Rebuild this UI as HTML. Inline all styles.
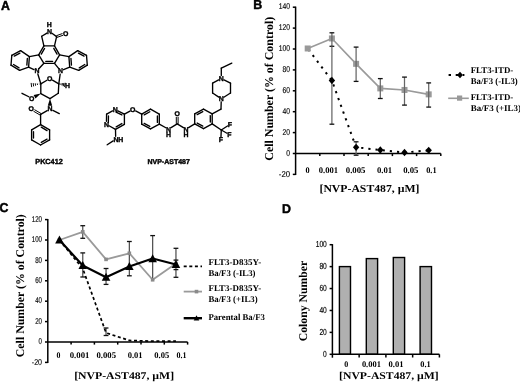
<!DOCTYPE html>
<html><head><meta charset="utf-8"><style>
html,body{margin:0;padding:0;background:#fff;width:520px;height:382px;overflow:hidden}
svg{display:block;will-change:transform;text-rendering:geometricPrecision}

</style></head><body>
<svg width="520" height="382" viewBox="0 0 520 382">
<rect width="520" height="382" fill="#fff"/>
<g>
<line x1="46.95" y1="33.07" x2="41.7" y2="36.3" stroke="#000" stroke-width="1.35" stroke-linecap="round"/>
<line x1="51.94" y1="33.25" x2="56.6" y2="36.6" stroke="#000" stroke-width="1.35" stroke-linecap="round"/>
<line x1="41.7" y1="36.3" x2="43.9" y2="45.9" stroke="#000" stroke-width="1.35" stroke-linecap="round"/>
<line x1="56.6" y1="36.6" x2="54.5" y2="45.9" stroke="#000" stroke-width="1.35" stroke-linecap="round"/>
<line x1="43.9" y1="45.9" x2="54.5" y2="45.9" stroke="#000" stroke-width="1.35" stroke-linecap="round"/>
<line x1="54.5" y1="45.9" x2="59.6" y2="54.8" stroke="#000" stroke-width="1.35" stroke-linecap="round"/>
<line x1="59.6" y1="54.8" x2="54.5" y2="63.3" stroke="#000" stroke-width="1.35" stroke-linecap="round"/>
<line x1="54.5" y1="63.3" x2="43.9" y2="63.3" stroke="#000" stroke-width="1.35" stroke-linecap="round"/>
<line x1="43.9" y1="63.3" x2="38.7" y2="54.8" stroke="#000" stroke-width="1.35" stroke-linecap="round"/>
<line x1="38.7" y1="54.8" x2="43.9" y2="45.9" stroke="#000" stroke-width="1.35" stroke-linecap="round"/>
<line x1="38.7" y1="54.8" x2="29.4" y2="56.6" stroke="#000" stroke-width="1.35" stroke-linecap="round"/>
<line x1="29.4" y1="56.6" x2="28.6" y2="67.2" stroke="#000" stroke-width="1.35" stroke-linecap="round"/>
<line x1="28.6" y1="67.2" x2="33.98" y2="69.6" stroke="#000" stroke-width="1.35" stroke-linecap="round"/>
<line x1="39.07" y1="68.55" x2="43.9" y2="63.3" stroke="#000" stroke-width="1.35" stroke-linecap="round"/>
<line x1="29.4" y1="56.6" x2="20.6" y2="50.6" stroke="#000" stroke-width="1.35" stroke-linecap="round"/>
<line x1="20.6" y1="50.6" x2="11.8" y2="55.3" stroke="#000" stroke-width="1.35" stroke-linecap="round"/>
<line x1="11.8" y1="55.3" x2="11" y2="65.2" stroke="#000" stroke-width="1.35" stroke-linecap="round"/>
<line x1="11" y1="65.2" x2="19.6" y2="70.4" stroke="#000" stroke-width="1.35" stroke-linecap="round"/>
<line x1="19.6" y1="70.4" x2="28.6" y2="67.2" stroke="#000" stroke-width="1.35" stroke-linecap="round"/>
<line x1="59.6" y1="54.8" x2="68.9" y2="56.6" stroke="#000" stroke-width="1.35" stroke-linecap="round"/>
<line x1="68.9" y1="56.6" x2="69.7" y2="67.2" stroke="#000" stroke-width="1.35" stroke-linecap="round"/>
<line x1="69.7" y1="67.2" x2="63.56" y2="69.69" stroke="#000" stroke-width="1.35" stroke-linecap="round"/>
<line x1="58.6" y1="68.4" x2="54.5" y2="63.3" stroke="#000" stroke-width="1.35" stroke-linecap="round"/>
<line x1="68.9" y1="56.6" x2="77.7" y2="50.6" stroke="#000" stroke-width="1.35" stroke-linecap="round"/>
<line x1="77.7" y1="50.6" x2="86.5" y2="55.3" stroke="#000" stroke-width="1.35" stroke-linecap="round"/>
<line x1="86.5" y1="55.3" x2="87.3" y2="65.2" stroke="#000" stroke-width="1.35" stroke-linecap="round"/>
<line x1="87.3" y1="65.2" x2="78.7" y2="70.4" stroke="#000" stroke-width="1.35" stroke-linecap="round"/>
<line x1="78.7" y1="70.4" x2="69.7" y2="67.2" stroke="#000" stroke-width="1.35" stroke-linecap="round"/>
<line x1="37.83" y1="73.96" x2="40.8" y2="83.8" stroke="#000" stroke-width="1.35" stroke-linecap="round"/>
<line x1="60.16" y1="74.07" x2="58.8" y2="83.8" stroke="#000" stroke-width="1.35" stroke-linecap="round"/>
<line x1="40.8" y1="83.8" x2="46.94" y2="80.21" stroke="#000" stroke-width="1.35" stroke-linecap="round"/>
<line x1="52.48" y1="80.19" x2="58.8" y2="83.8" stroke="#000" stroke-width="1.35" stroke-linecap="round"/>
<line x1="58.8" y1="83.8" x2="58.3" y2="93.3" stroke="#000" stroke-width="1.35" stroke-linecap="round"/>
<line x1="58.3" y1="93.3" x2="50" y2="98.6" stroke="#000" stroke-width="1.35" stroke-linecap="round"/>
<line x1="50" y1="98.6" x2="40.8" y2="93.6" stroke="#000" stroke-width="1.35" stroke-linecap="round"/>
<line x1="40.8" y1="93.6" x2="40.8" y2="83.8" stroke="#000" stroke-width="1.35" stroke-linecap="round"/>
<line x1="28.84" y1="96.76" x2="22" y2="93.3" stroke="#000" stroke-width="1.35" stroke-linecap="round"/>
<line x1="52.87" y1="110.42" x2="59.3" y2="113.6" stroke="#000" stroke-width="1.35" stroke-linecap="round"/>
<line x1="47.21" y1="110.57" x2="40.6" y2="114.3" stroke="#000" stroke-width="1.35" stroke-linecap="round"/>
<line x1="40.6" y1="114.3" x2="40.6" y2="124.6" stroke="#000" stroke-width="1.35" stroke-linecap="round"/>
<line x1="40.6" y1="124.6" x2="49.6" y2="129.9" stroke="#000" stroke-width="1.35" stroke-linecap="round"/>
<line x1="49.6" y1="129.9" x2="49.6" y2="139.9" stroke="#000" stroke-width="1.35" stroke-linecap="round"/>
<line x1="49.6" y1="139.9" x2="40.6" y2="145" stroke="#000" stroke-width="1.35" stroke-linecap="round"/>
<line x1="40.6" y1="145" x2="31.6" y2="139.9" stroke="#000" stroke-width="1.35" stroke-linecap="round"/>
<line x1="31.6" y1="139.9" x2="31.6" y2="129.9" stroke="#000" stroke-width="1.35" stroke-linecap="round"/>
<line x1="31.6" y1="129.9" x2="40.6" y2="124.6" stroke="#000" stroke-width="1.35" stroke-linecap="round"/>
<line x1="56.9" y1="37.45" x2="63.09" y2="35.23" stroke="#000" stroke-width="1.0" />
<line x1="56.3" y1="35.75" x2="62.48" y2="33.53" stroke="#000" stroke-width="1.0" />
<line x1="41.05" y1="113.52" x2="34.42" y2="109.64" stroke="#000" stroke-width="1.0" />
<line x1="40.15" y1="115.08" x2="33.51" y2="111.19" stroke="#000" stroke-width="1.0" />
<line x1="41.28" y1="54.16" x2="44.6" y2="48.46" stroke="#000" stroke-width="1.35" stroke-linecap="round"/>
<line x1="53.77" y1="48.45" x2="57.03" y2="54.14" stroke="#000" stroke-width="1.35" stroke-linecap="round"/>
<line x1="45.81" y1="61.4" x2="52.59" y2="61.4" stroke="#000" stroke-width="1.35" stroke-linecap="round"/>
<line x1="19.91" y1="53.12" x2="14.28" y2="56.13" stroke="#000" stroke-width="1.35" stroke-linecap="round"/>
<line x1="13.53" y1="64.51" x2="19.04" y2="67.84" stroke="#000" stroke-width="1.35" stroke-linecap="round"/>
<line x1="27.36" y1="58.37" x2="26.85" y2="65.15" stroke="#000" stroke-width="1.35" stroke-linecap="round"/>
<line x1="78.39" y1="53.12" x2="84.02" y2="56.13" stroke="#000" stroke-width="1.35" stroke-linecap="round"/>
<line x1="84.77" y1="64.51" x2="79.26" y2="67.84" stroke="#000" stroke-width="1.35" stroke-linecap="round"/>
<line x1="70.94" y1="58.37" x2="71.45" y2="65.15" stroke="#000" stroke-width="1.35" stroke-linecap="round"/>
<line x1="41.26" y1="127.19" x2="47.02" y2="130.58" stroke="#000" stroke-width="1.35" stroke-linecap="round"/>
<line x1="47.04" y1="139.16" x2="41.28" y2="142.43" stroke="#000" stroke-width="1.35" stroke-linecap="round"/>
<line x1="33.5" y1="138.1" x2="33.5" y2="131.7" stroke="#000" stroke-width="1.35" stroke-linecap="round"/>
<line x1="39.35" y1="83.67" x2="39.43" y2="84.29" stroke="#000" stroke-width="0.95" />
<line x1="37.3" y1="83.48" x2="37.49" y2="84.99" stroke="#000" stroke-width="0.95" />
<line x1="35.24" y1="83.29" x2="35.55" y2="85.69" stroke="#000" stroke-width="0.95" />
<line x1="33.19" y1="83.1" x2="33.61" y2="86.39" stroke="#000" stroke-width="0.95" />
<line x1="31.13" y1="82.92" x2="31.67" y2="87.08" stroke="#000" stroke-width="0.95" />
<line x1="59.65" y1="84.26" x2="59.76" y2="83.64" stroke="#000" stroke-width="0.95" />
<line x1="60.86" y1="84.92" x2="61.12" y2="83.42" stroke="#000" stroke-width="0.95" />
<line x1="62.07" y1="85.58" x2="62.48" y2="83.2" stroke="#000" stroke-width="0.95" />
<line x1="63.28" y1="86.24" x2="63.83" y2="82.98" stroke="#000" stroke-width="0.95" />
<line x1="64.49" y1="86.9" x2="65.19" y2="82.76" stroke="#000" stroke-width="0.95" />
<polygon points="40.8,93.6 33.65,94.97 35.46,98.54" fill="#000"/>
<polygon points="50,98.6 47.8,105.8 52.2,105.8" fill="#000"/>
<text x="49.5" y="33.98" font-family='"Liberation Sans", sans-serif' font-size="6.9" font-weight="bold" text-anchor="middle" fill="#000" stroke="#000" stroke-width="0.35">N</text>
<text x="49.2" y="26.9" font-family='"Liberation Sans", sans-serif' font-size="6.9" font-weight="bold" text-anchor="middle" fill="#000" stroke="#000" stroke-width="0.35">H</text>
<text x="65.8" y="35.78" font-family='"Liberation Sans", sans-serif' font-size="6.9" font-weight="bold" text-anchor="middle" fill="#000" stroke="#000" stroke-width="0.35">O</text>
<text x="36.9" y="73.38" font-family='"Liberation Sans", sans-serif' font-size="6.9" font-weight="bold" text-anchor="middle" fill="#000" stroke="#000" stroke-width="0.35">N</text>
<text x="60.6" y="73.38" font-family='"Liberation Sans", sans-serif' font-size="6.9" font-weight="bold" text-anchor="middle" fill="#000" stroke="#000" stroke-width="0.35">N</text>
<text x="49.7" y="81.08" font-family='"Liberation Sans", sans-serif' font-size="6.9" font-weight="bold" text-anchor="middle" fill="#000" stroke="#000" stroke-width="0.35">O</text>
<text x="67.6" y="87.78" font-family='"Liberation Sans", sans-serif' font-size="6.9" font-weight="bold" text-anchor="middle" fill="#000" stroke="#000" stroke-width="0.35">H</text>
<text x="31.7" y="100.68" font-family='"Liberation Sans", sans-serif' font-size="6.9" font-weight="bold" text-anchor="middle" fill="#000" stroke="#000" stroke-width="0.35">O</text>
<text x="50" y="111.48" font-family='"Liberation Sans", sans-serif' font-size="6.9" font-weight="bold" text-anchor="middle" fill="#000" stroke="#000" stroke-width="0.35">N</text>
<text x="31.2" y="111.28" font-family='"Liberation Sans", sans-serif' font-size="6.9" font-weight="bold" text-anchor="middle" fill="#000" stroke="#000" stroke-width="0.35">O</text>
<text x="35.3" y="164.2" font-family='"Liberation Sans", sans-serif' font-size="7.4" font-weight="bold" text-anchor="start" fill="#000" textLength="27.4" lengthAdjust="spacingAndGlyphs" stroke="#000" stroke-width="0.4">PKC412</text>
</g>
<g>
<line x1="112.55" y1="110.91" x2="106.6" y2="114.1" stroke="#000" stroke-width="1.35" stroke-linecap="round"/>
<line x1="106.6" y1="114.1" x2="106.46" y2="121.3" stroke="#000" stroke-width="1.35" stroke-linecap="round"/>
<line x1="109.02" y1="125.77" x2="115.5" y2="129.4" stroke="#000" stroke-width="1.35" stroke-linecap="round"/>
<line x1="115.5" y1="129.4" x2="124.4" y2="124.3" stroke="#000" stroke-width="1.35" stroke-linecap="round"/>
<line x1="124.4" y1="124.3" x2="124.4" y2="114.1" stroke="#000" stroke-width="1.35" stroke-linecap="round"/>
<line x1="124.4" y1="114.1" x2="117.88" y2="110.84" stroke="#000" stroke-width="1.35" stroke-linecap="round"/>
<line x1="124.4" y1="114.1" x2="129.99" y2="111.04" stroke="#000" stroke-width="1.35" stroke-linecap="round"/>
<line x1="135.64" y1="110.97" x2="141.7" y2="114.1" stroke="#000" stroke-width="1.35" stroke-linecap="round"/>
<line x1="141.7" y1="114.1" x2="150.5" y2="109.2" stroke="#000" stroke-width="1.35" stroke-linecap="round"/>
<line x1="150.5" y1="109.2" x2="159.3" y2="114.1" stroke="#000" stroke-width="1.35" stroke-linecap="round"/>
<line x1="159.3" y1="114.1" x2="159.3" y2="124.2" stroke="#000" stroke-width="1.35" stroke-linecap="round"/>
<line x1="159.3" y1="124.2" x2="150.5" y2="128.9" stroke="#000" stroke-width="1.35" stroke-linecap="round"/>
<line x1="150.5" y1="128.9" x2="141.7" y2="124.2" stroke="#000" stroke-width="1.35" stroke-linecap="round"/>
<line x1="141.7" y1="124.2" x2="141.7" y2="114.1" stroke="#000" stroke-width="1.35" stroke-linecap="round"/>
<line x1="115.5" y1="129.4" x2="115.64" y2="136.3" stroke="#000" stroke-width="1.35" stroke-linecap="round"/>
<line x1="113.18" y1="140.93" x2="107.2" y2="144.8" stroke="#000" stroke-width="1.35" stroke-linecap="round"/>
<line x1="159.3" y1="124.2" x2="165.86" y2="127.77" stroke="#000" stroke-width="1.35" stroke-linecap="round"/>
<line x1="171.06" y1="127.64" x2="177.2" y2="123.9" stroke="#000" stroke-width="1.35" stroke-linecap="round"/>
<line x1="177.2" y1="123.9" x2="183.43" y2="127.65" stroke="#000" stroke-width="1.35" stroke-linecap="round"/>
<line x1="188.56" y1="127.64" x2="194.7" y2="123.9" stroke="#000" stroke-width="1.35" stroke-linecap="round"/>
<line x1="194.7" y1="123.9" x2="194.7" y2="113.8" stroke="#000" stroke-width="1.35" stroke-linecap="round"/>
<line x1="194.7" y1="113.8" x2="203.5" y2="109.1" stroke="#000" stroke-width="1.35" stroke-linecap="round"/>
<line x1="203.5" y1="109.1" x2="212.2" y2="113.8" stroke="#000" stroke-width="1.35" stroke-linecap="round"/>
<line x1="212.2" y1="113.8" x2="212.2" y2="123.9" stroke="#000" stroke-width="1.35" stroke-linecap="round"/>
<line x1="212.2" y1="123.9" x2="203.5" y2="128.6" stroke="#000" stroke-width="1.35" stroke-linecap="round"/>
<line x1="203.5" y1="128.6" x2="194.7" y2="123.9" stroke="#000" stroke-width="1.35" stroke-linecap="round"/>
<line x1="212.2" y1="113.8" x2="221" y2="109.1" stroke="#000" stroke-width="1.35" stroke-linecap="round"/>
<line x1="221" y1="109.1" x2="221.21" y2="101.8" stroke="#000" stroke-width="1.35" stroke-linecap="round"/>
<line x1="218.8" y1="97.14" x2="212.6" y2="93" stroke="#000" stroke-width="1.35" stroke-linecap="round"/>
<line x1="212.6" y1="93" x2="212.6" y2="83.1" stroke="#000" stroke-width="1.35" stroke-linecap="round"/>
<line x1="212.6" y1="83.1" x2="218.65" y2="79.9" stroke="#000" stroke-width="1.35" stroke-linecap="round"/>
<line x1="223.98" y1="79.84" x2="230.5" y2="83.1" stroke="#000" stroke-width="1.35" stroke-linecap="round"/>
<line x1="230.5" y1="83.1" x2="230.5" y2="93" stroke="#000" stroke-width="1.35" stroke-linecap="round"/>
<line x1="230.5" y1="93" x2="223.84" y2="97.2" stroke="#000" stroke-width="1.35" stroke-linecap="round"/>
<line x1="221.3" y1="75.5" x2="221.3" y2="68.1" stroke="#000" stroke-width="1.35" stroke-linecap="round"/>
<line x1="221.3" y1="68.1" x2="231.8" y2="63.1" stroke="#000" stroke-width="1.35" stroke-linecap="round"/>
<line x1="212.2" y1="123.9" x2="221.3" y2="130" stroke="#000" stroke-width="1.35" stroke-linecap="round"/>
<line x1="221.3" y1="130" x2="227.46" y2="125.94" stroke="#000" stroke-width="1.35" stroke-linecap="round"/>
<line x1="221.3" y1="130" x2="226.97" y2="133.22" stroke="#000" stroke-width="1.35" stroke-linecap="round"/>
<line x1="221.3" y1="130" x2="220.94" y2="137" stroke="#000" stroke-width="1.35" stroke-linecap="round"/>
<line x1="178.1" y1="123.9" x2="178.1" y2="116.8" stroke="#000" stroke-width="1.0" />
<line x1="176.3" y1="123.9" x2="176.3" y2="116.8" stroke="#000" stroke-width="1.0" />
<line x1="116.01" y1="112.03" x2="121.89" y2="114.97" stroke="#000" stroke-width="1.35" stroke-linecap="round"/>
<line x1="116.16" y1="126.83" x2="121.85" y2="123.57" stroke="#000" stroke-width="1.35" stroke-linecap="round"/>
<line x1="108.46" y1="115.97" x2="108.34" y2="122.5" stroke="#000" stroke-width="1.35" stroke-linecap="round"/>
<line x1="144.21" y1="114.88" x2="149.84" y2="111.74" stroke="#000" stroke-width="1.35" stroke-linecap="round"/>
<line x1="157.4" y1="115.92" x2="157.4" y2="122.38" stroke="#000" stroke-width="1.35" stroke-linecap="round"/>
<line x1="149.81" y1="126.38" x2="144.18" y2="123.37" stroke="#000" stroke-width="1.35" stroke-linecap="round"/>
<line x1="197.18" y1="114.63" x2="202.81" y2="111.62" stroke="#000" stroke-width="1.35" stroke-linecap="round"/>
<line x1="210.3" y1="115.62" x2="210.3" y2="122.08" stroke="#000" stroke-width="1.35" stroke-linecap="round"/>
<line x1="202.81" y1="126.08" x2="197.18" y2="123.07" stroke="#000" stroke-width="1.35" stroke-linecap="round"/>
<text x="115.2" y="111.98" font-family='"Liberation Sans", sans-serif' font-size="6.9" font-weight="bold" text-anchor="middle" fill="#000" stroke="#000" stroke-width="0.35">N</text>
<text x="106.4" y="126.78" font-family='"Liberation Sans", sans-serif' font-size="6.9" font-weight="bold" text-anchor="middle" fill="#000" stroke="#000" stroke-width="0.35">N</text>
<text x="132.8" y="111.98" font-family='"Liberation Sans", sans-serif' font-size="6.9" font-weight="bold" text-anchor="middle" fill="#000" stroke="#000" stroke-width="0.35">O</text>
<text x="177.2" y="116.28" font-family='"Liberation Sans", sans-serif' font-size="6.9" font-weight="bold" text-anchor="middle" fill="#000" stroke="#000" stroke-width="0.35">O</text>
<text x="113.4" y="141.78" font-family='"Liberation Sans", sans-serif' font-size="6.9" font-weight="bold" text-anchor="start" fill="#000" stroke="#000" stroke-width="0.35">NH</text>
<text x="168.5" y="131.68" font-family='"Liberation Sans", sans-serif' font-size="6.9" font-weight="bold" text-anchor="middle" fill="#000" stroke="#000" stroke-width="0.35">N</text>
<text x="168.5" y="137.2" font-family='"Liberation Sans", sans-serif' font-size="6.9" font-weight="bold" text-anchor="middle" fill="#000" stroke="#000" stroke-width="0.35">H</text>
<text x="186" y="131.68" font-family='"Liberation Sans", sans-serif' font-size="6.9" font-weight="bold" text-anchor="middle" fill="#000" stroke="#000" stroke-width="0.35">N</text>
<text x="186" y="137.2" font-family='"Liberation Sans", sans-serif' font-size="6.9" font-weight="bold" text-anchor="middle" fill="#000" stroke="#000" stroke-width="0.35">H</text>
<text x="221.3" y="101.28" font-family='"Liberation Sans", sans-serif' font-size="6.9" font-weight="bold" text-anchor="middle" fill="#000" stroke="#000" stroke-width="0.35">N</text>
<text x="221.3" y="80.98" font-family='"Liberation Sans", sans-serif' font-size="6.9" font-weight="bold" text-anchor="middle" fill="#000" stroke="#000" stroke-width="0.35">N</text>
<text x="229.8" y="126.88" font-family='"Liberation Sans", sans-serif' font-size="6.9" font-weight="bold" text-anchor="middle" fill="#000" stroke="#000" stroke-width="0.35">F</text>
<text x="229.4" y="137.08" font-family='"Liberation Sans", sans-serif' font-size="6.9" font-weight="bold" text-anchor="middle" fill="#000" stroke="#000" stroke-width="0.35">F</text>
<text x="220.8" y="142.28" font-family='"Liberation Sans", sans-serif' font-size="6.9" font-weight="bold" text-anchor="middle" fill="#000" stroke="#000" stroke-width="0.35">F</text>
<text x="147.5" y="164.1" font-family='"Liberation Sans", sans-serif' font-size="7" font-weight="bold" text-anchor="start" fill="#000" textLength="42.3" lengthAdjust="spacingAndGlyphs" stroke="#000" stroke-width="0.4">NVP-AST487</text>
</g>
<text x="0.9" y="9.9" font-family='"Liberation Sans", sans-serif' font-size="13" font-weight="bold" text-anchor="start" fill="#000" textLength="8.9" lengthAdjust="spacingAndGlyphs" stroke="#000" stroke-width="0.45">A</text>
<text x="253.3" y="9.2" font-family='"Liberation Sans", sans-serif' font-size="13" font-weight="bold" text-anchor="start" fill="#000" textLength="9" lengthAdjust="spacingAndGlyphs" stroke="#000" stroke-width="0.45">B</text>
<text x="-0.5" y="212.4" font-family='"Liberation Sans", sans-serif' font-size="12.8" font-weight="bold" text-anchor="start" fill="#000" textLength="8.9" lengthAdjust="spacingAndGlyphs" stroke="#000" stroke-width="0.45">C</text>
<text x="282.1" y="212.5" font-family='"Liberation Sans", sans-serif' font-size="12.6" font-weight="bold" text-anchor="start" fill="#000" textLength="9" lengthAdjust="spacingAndGlyphs" stroke="#000" stroke-width="0.45">D</text>
<line x1="295.6" y1="6.6" x2="295.6" y2="175" stroke="#000" stroke-width="1.5" />
<line x1="292.8" y1="7.2" x2="295.6" y2="7.2" stroke="#000" stroke-width="1.5" />
<text x="290.1" y="9.3" font-family='"Liberation Sans", sans-serif' font-size="8.4" font-weight="normal" text-anchor="end" fill="#000" textLength="11.25" lengthAdjust="spacingAndGlyphs" stroke="#000" stroke-width="0.15">140</text>
<line x1="292.8" y1="28.1" x2="295.6" y2="28.1" stroke="#000" stroke-width="1.5" />
<text x="290.1" y="30.2" font-family='"Liberation Sans", sans-serif' font-size="8.4" font-weight="normal" text-anchor="end" fill="#000" textLength="11.25" lengthAdjust="spacingAndGlyphs" stroke="#000" stroke-width="0.15">120</text>
<line x1="292.8" y1="49" x2="295.6" y2="49" stroke="#000" stroke-width="1.5" />
<text x="290.1" y="51.1" font-family='"Liberation Sans", sans-serif' font-size="8.4" font-weight="normal" text-anchor="end" fill="#000" textLength="11.25" lengthAdjust="spacingAndGlyphs" stroke="#000" stroke-width="0.15">100</text>
<line x1="292.8" y1="69.9" x2="295.6" y2="69.9" stroke="#000" stroke-width="1.5" />
<text x="290.1" y="72" font-family='"Liberation Sans", sans-serif' font-size="8.4" font-weight="normal" text-anchor="end" fill="#000" textLength="7.5" lengthAdjust="spacingAndGlyphs" stroke="#000" stroke-width="0.15">80</text>
<line x1="292.8" y1="90.8" x2="295.6" y2="90.8" stroke="#000" stroke-width="1.5" />
<text x="290.1" y="92.9" font-family='"Liberation Sans", sans-serif' font-size="8.4" font-weight="normal" text-anchor="end" fill="#000" textLength="7.5" lengthAdjust="spacingAndGlyphs" stroke="#000" stroke-width="0.15">60</text>
<line x1="292.8" y1="111.7" x2="295.6" y2="111.7" stroke="#000" stroke-width="1.5" />
<text x="290.1" y="113.8" font-family='"Liberation Sans", sans-serif' font-size="8.4" font-weight="normal" text-anchor="end" fill="#000" textLength="7.5" lengthAdjust="spacingAndGlyphs" stroke="#000" stroke-width="0.15">40</text>
<line x1="292.8" y1="132.6" x2="295.6" y2="132.6" stroke="#000" stroke-width="1.5" />
<text x="290.1" y="134.7" font-family='"Liberation Sans", sans-serif' font-size="8.4" font-weight="normal" text-anchor="end" fill="#000" textLength="7.5" lengthAdjust="spacingAndGlyphs" stroke="#000" stroke-width="0.15">20</text>
<line x1="292.8" y1="153.5" x2="295.6" y2="153.5" stroke="#000" stroke-width="1.5" />
<text x="290.1" y="155.6" font-family='"Liberation Sans", sans-serif' font-size="8.4" font-weight="normal" text-anchor="end" fill="#000" textLength="3.75" lengthAdjust="spacingAndGlyphs" stroke="#000" stroke-width="0.15">0</text>
<line x1="292.8" y1="174.4" x2="295.6" y2="174.4" stroke="#000" stroke-width="1.5" />
<text x="290.1" y="176.5" font-family='"Liberation Sans", sans-serif' font-size="8.4" font-weight="normal" text-anchor="end" fill="#000" textLength="11.25" lengthAdjust="spacingAndGlyphs" stroke="#000" stroke-width="0.15">-20</text>
<line x1="295.6" y1="153.5" x2="440.8" y2="153.5" stroke="#000" stroke-width="1.5" />
<line x1="319.8" y1="153.5" x2="319.8" y2="156.1" stroke="#000" stroke-width="1.5" />
<line x1="344" y1="153.5" x2="344" y2="156.1" stroke="#000" stroke-width="1.5" />
<line x1="368.2" y1="153.5" x2="368.2" y2="156.1" stroke="#000" stroke-width="1.5" />
<line x1="392.4" y1="153.5" x2="392.4" y2="156.1" stroke="#000" stroke-width="1.5" />
<line x1="416.6" y1="153.5" x2="416.6" y2="156.1" stroke="#000" stroke-width="1.5" />
<line x1="440.8" y1="153.5" x2="440.8" y2="156.1" stroke="#000" stroke-width="1.5" />
<text x="305.5" y="172.8" font-family='"Liberation Serif", serif' font-size="8.7" font-weight="bold" text-anchor="start" fill="#000" textLength="4.1" lengthAdjust="spacingAndGlyphs" >0</text>
<text x="318.8" y="172.8" font-family='"Liberation Serif", serif' font-size="8.7" font-weight="bold" text-anchor="start" fill="#000" textLength="19.3" lengthAdjust="spacingAndGlyphs" >0.001</text>
<text x="345.8" y="172.8" font-family='"Liberation Serif", serif' font-size="8.7" font-weight="bold" text-anchor="start" fill="#000" textLength="19.7" lengthAdjust="spacingAndGlyphs" >0.005</text>
<text x="376.9" y="172.8" font-family='"Liberation Serif", serif' font-size="8.7" font-weight="bold" text-anchor="start" fill="#000" textLength="15.2" lengthAdjust="spacingAndGlyphs" >0.01</text>
<text x="403.2" y="172.8" font-family='"Liberation Serif", serif' font-size="8.7" font-weight="bold" text-anchor="start" fill="#000" textLength="15.2" lengthAdjust="spacingAndGlyphs" >0.05</text>
<text x="426.2" y="172.8" font-family='"Liberation Serif", serif' font-size="8.7" font-weight="bold" text-anchor="start" fill="#000" textLength="10.4" lengthAdjust="spacingAndGlyphs" >0.1</text>
<text x="319.5" y="191.9" font-family='"Liberation Serif", serif' font-size="10.7" font-weight="bold" text-anchor="start" fill="#000" textLength="99.9" lengthAdjust="spacingAndGlyphs" >[NVP-AST487, µM]</text>
<text transform="translate(272.8,160.7) rotate(-90)" font-family='"Liberation Serif", serif' font-size="12" font-weight="bold" textLength="143.9" lengthAdjust="spacingAndGlyphs">Cell Number (% of Control)</text>
<polyline points="307.7,48.48 331.9,38.45 356.1,63.84 380.3,88.4 404.5,89.96 428.7,94.35" fill="none" stroke="#9a9a9a" stroke-width="1.6" stroke-linejoin="round" />
<polyline points="307.7,48.48 331.9,80.56 356.1,147.33 380.3,149.95 404.5,152.46 428.7,150.37" fill="none" stroke="#000" stroke-width="2.0" stroke-linejoin="round" stroke-dasharray="2.2 5.0" stroke-dashoffset="6.1" stroke-linecap="butt"/>
<rect x="304.7" y="45.48" width="6" height="6" fill="#999"/>
<rect x="328.9" y="35.45" width="6" height="6" fill="#999"/>
<rect x="353.1" y="60.84" width="6" height="6" fill="#999"/>
<rect x="377.3" y="85.4" width="6" height="6" fill="#999"/>
<rect x="401.5" y="86.96" width="6" height="6" fill="#999"/>
<rect x="425.7" y="91.35" width="6" height="6" fill="#999"/>
<line x1="331.9" y1="32.8" x2="331.9" y2="46.3" stroke="#666" stroke-width="1.25" />
<line x1="329.5" y1="32.8" x2="334.3" y2="32.8" stroke="#111" stroke-width="1.3" />
<line x1="329.5" y1="46.3" x2="334.3" y2="46.3" stroke="#111" stroke-width="1.3" />
<line x1="331.9" y1="46.3" x2="331.9" y2="124.2" stroke="#666" stroke-width="1.25" />
<line x1="329.5" y1="124.2" x2="334.3" y2="124.2" stroke="#111" stroke-width="1.3" />
<line x1="356.1" y1="47.1" x2="356.1" y2="81.4" stroke="#666" stroke-width="1.25" />
<line x1="353.7" y1="47.1" x2="358.5" y2="47.1" stroke="#111" stroke-width="1.3" />
<line x1="353.7" y1="81.4" x2="358.5" y2="81.4" stroke="#111" stroke-width="1.3" />
<line x1="380.3" y1="78.6" x2="380.3" y2="98.5" stroke="#666" stroke-width="1.25" />
<line x1="377.9" y1="78.6" x2="382.7" y2="78.6" stroke="#111" stroke-width="1.3" />
<line x1="377.9" y1="98.5" x2="382.7" y2="98.5" stroke="#111" stroke-width="1.3" />
<line x1="404.5" y1="77.1" x2="404.5" y2="105.1" stroke="#666" stroke-width="1.25" />
<line x1="402.1" y1="77.1" x2="406.9" y2="77.1" stroke="#111" stroke-width="1.3" />
<line x1="402.1" y1="105.1" x2="406.9" y2="105.1" stroke="#111" stroke-width="1.3" />
<line x1="428.7" y1="82.9" x2="428.7" y2="107.1" stroke="#666" stroke-width="1.25" />
<line x1="426.3" y1="82.9" x2="431.1" y2="82.9" stroke="#111" stroke-width="1.3" />
<line x1="426.3" y1="107.1" x2="431.1" y2="107.1" stroke="#111" stroke-width="1.3" />
<line x1="356.1" y1="141.8" x2="356.1" y2="155.2" stroke="#666" stroke-width="1.25" />
<line x1="353.7" y1="141.8" x2="358.5" y2="141.8" stroke="#111" stroke-width="1.3" />
<line x1="353.7" y1="155.2" x2="358.5" y2="155.2" stroke="#111" stroke-width="1.3" />
<polygon points="331.9,76.86 335.1,80.56 331.9,84.26 328.7,80.56" fill="#000"/>
<polygon points="356.1,143.63 359.3,147.33 356.1,151.03 352.9,147.33" fill="#000"/>
<polygon points="380.3,146.25 383.5,149.95 380.3,153.65 377.1,149.95" fill="#000"/>
<polygon points="404.5,148.76 407.7,152.46 404.5,156.16 401.3,152.46" fill="#000"/>
<polygon points="428.7,146.67 431.9,150.37 428.7,154.06 425.5,150.37" fill="#000"/>
<line x1="448.6" y1="75" x2="464.4" y2="75" stroke="#000" stroke-width="2.0" stroke-dasharray="2.4 4.7"/>
<polygon points="460,71.8 463,75 460,78.2 457,75" fill="#000"/>
<line x1="448.2" y1="98.3" x2="468.8" y2="98.3" stroke="#9a9a9a" stroke-width="1.6" />
<rect x="457" y="95.5" width="5.2" height="5.2" fill="#999"/>
<text x="470.7" y="73" font-family='"Liberation Serif", serif' font-size="8.9" font-weight="bold" text-anchor="start" fill="#000" >FLT3-ITD-</text>
<text x="470.7" y="84" font-family='"Liberation Serif", serif' font-size="8.9" font-weight="bold" text-anchor="start" fill="#000" textLength="47" lengthAdjust="spacingAndGlyphs" >Ba/F3 (-IL3)</text>
<text x="470.7" y="100.1" font-family='"Liberation Serif", serif' font-size="8.9" font-weight="bold" text-anchor="start" fill="#000" >FLT3-ITD-</text>
<text x="470.7" y="110.6" font-family='"Liberation Serif", serif' font-size="8.9" font-weight="bold" text-anchor="start" fill="#000" textLength="50.3" lengthAdjust="spacingAndGlyphs" >Ba/F3 (+IL3)</text>
<line x1="47.8" y1="219" x2="47.8" y2="363" stroke="#000" stroke-width="1.5" />
<line x1="45" y1="219.6" x2="47.8" y2="219.6" stroke="#000" stroke-width="1.5" />
<text x="42" y="221.8" font-family='"Liberation Sans", sans-serif' font-size="8.4" font-weight="normal" text-anchor="end" fill="#000" textLength="10.2" lengthAdjust="spacingAndGlyphs" stroke="#000" stroke-width="0.15">120</text>
<line x1="45" y1="240" x2="47.8" y2="240" stroke="#000" stroke-width="1.5" />
<text x="42" y="242.2" font-family='"Liberation Sans", sans-serif' font-size="8.4" font-weight="normal" text-anchor="end" fill="#000" textLength="10.2" lengthAdjust="spacingAndGlyphs" stroke="#000" stroke-width="0.15">100</text>
<line x1="45" y1="260.4" x2="47.8" y2="260.4" stroke="#000" stroke-width="1.5" />
<text x="42" y="262.6" font-family='"Liberation Sans", sans-serif' font-size="8.4" font-weight="normal" text-anchor="end" fill="#000" textLength="6.8" lengthAdjust="spacingAndGlyphs" stroke="#000" stroke-width="0.15">80</text>
<line x1="45" y1="280.8" x2="47.8" y2="280.8" stroke="#000" stroke-width="1.5" />
<text x="42" y="283" font-family='"Liberation Sans", sans-serif' font-size="8.4" font-weight="normal" text-anchor="end" fill="#000" textLength="6.8" lengthAdjust="spacingAndGlyphs" stroke="#000" stroke-width="0.15">60</text>
<line x1="45" y1="301.2" x2="47.8" y2="301.2" stroke="#000" stroke-width="1.5" />
<text x="42" y="303.4" font-family='"Liberation Sans", sans-serif' font-size="8.4" font-weight="normal" text-anchor="end" fill="#000" textLength="6.8" lengthAdjust="spacingAndGlyphs" stroke="#000" stroke-width="0.15">40</text>
<line x1="45" y1="321.6" x2="47.8" y2="321.6" stroke="#000" stroke-width="1.5" />
<text x="42" y="323.8" font-family='"Liberation Sans", sans-serif' font-size="8.4" font-weight="normal" text-anchor="end" fill="#000" textLength="6.8" lengthAdjust="spacingAndGlyphs" stroke="#000" stroke-width="0.15">20</text>
<line x1="45" y1="342" x2="47.8" y2="342" stroke="#000" stroke-width="1.5" />
<text x="42" y="344.2" font-family='"Liberation Sans", sans-serif' font-size="8.4" font-weight="normal" text-anchor="end" fill="#000" textLength="3.4" lengthAdjust="spacingAndGlyphs" stroke="#000" stroke-width="0.15">0</text>
<line x1="45" y1="362.4" x2="47.8" y2="362.4" stroke="#000" stroke-width="1.5" />
<text x="42" y="364.6" font-family='"Liberation Sans", sans-serif' font-size="8.4" font-weight="normal" text-anchor="end" fill="#000" textLength="10.2" lengthAdjust="spacingAndGlyphs" stroke="#000" stroke-width="0.15">-20</text>
<line x1="47.8" y1="342" x2="187.6" y2="342" stroke="#000" stroke-width="1.5" />
<line x1="71.1" y1="342" x2="71.1" y2="344.6" stroke="#000" stroke-width="1.5" />
<line x1="94.4" y1="342" x2="94.4" y2="344.6" stroke="#000" stroke-width="1.5" />
<line x1="117.7" y1="342" x2="117.7" y2="344.6" stroke="#000" stroke-width="1.5" />
<line x1="141" y1="342" x2="141" y2="344.6" stroke="#000" stroke-width="1.5" />
<line x1="164.3" y1="342" x2="164.3" y2="344.6" stroke="#000" stroke-width="1.5" />
<line x1="187.6" y1="342" x2="187.6" y2="344.6" stroke="#000" stroke-width="1.5" />
<text x="56.5" y="358.1" font-family='"Liberation Serif", serif' font-size="8.7" font-weight="bold" text-anchor="start" fill="#000" textLength="3.9" lengthAdjust="spacingAndGlyphs" >0</text>
<text x="69.7" y="358.1" font-family='"Liberation Serif", serif' font-size="8.7" font-weight="bold" text-anchor="start" fill="#000" textLength="19.7" lengthAdjust="spacingAndGlyphs" >0.001</text>
<text x="96.5" y="358.1" font-family='"Liberation Serif", serif' font-size="8.7" font-weight="bold" text-anchor="start" fill="#000" textLength="19.5" lengthAdjust="spacingAndGlyphs" >0.005</text>
<text x="127.7" y="358.1" font-family='"Liberation Serif", serif' font-size="8.7" font-weight="bold" text-anchor="start" fill="#000" textLength="14.9" lengthAdjust="spacingAndGlyphs" >0.01</text>
<text x="154.3" y="358.1" font-family='"Liberation Serif", serif' font-size="8.7" font-weight="bold" text-anchor="start" fill="#000" textLength="14.9" lengthAdjust="spacingAndGlyphs" >0.05</text>
<text x="176.5" y="358.1" font-family='"Liberation Serif", serif' font-size="8.7" font-weight="bold" text-anchor="start" fill="#000" textLength="10" lengthAdjust="spacingAndGlyphs" >0.1</text>
<text x="74.2" y="378.6" font-family='"Liberation Serif", serif' font-size="10.3" font-weight="bold" text-anchor="start" fill="#000" textLength="99.9" lengthAdjust="spacingAndGlyphs" >[NVP-AST487, µM]</text>
<text transform="translate(24.2,357.2) rotate(-90)" font-family='"Liberation Serif", serif' font-size="11.8" font-weight="bold" textLength="143" lengthAdjust="spacingAndGlyphs">Cell Number (% of Control)</text>
<line x1="82.75" y1="225.7" x2="82.75" y2="238.3" stroke="#505050" stroke-width="1.25" />
<line x1="80.35" y1="225.7" x2="85.15" y2="225.7" stroke="#111" stroke-width="1.3" />
<line x1="80.35" y1="238.3" x2="85.15" y2="238.3" stroke="#111" stroke-width="1.3" />
<line x1="82.75" y1="252.9" x2="82.75" y2="277" stroke="#505050" stroke-width="1.25" />
<line x1="80.35" y1="252.9" x2="85.15" y2="252.9" stroke="#111" stroke-width="1.3" />
<line x1="80.35" y1="277" x2="85.15" y2="277" stroke="#111" stroke-width="1.3" />
<line x1="106.05" y1="268.5" x2="106.05" y2="284.4" stroke="#505050" stroke-width="1.25" />
<line x1="103.65" y1="268.5" x2="108.45" y2="268.5" stroke="#111" stroke-width="1.3" />
<line x1="103.65" y1="284.4" x2="108.45" y2="284.4" stroke="#111" stroke-width="1.3" />
<line x1="129.35" y1="241.5" x2="129.35" y2="275.8" stroke="#505050" stroke-width="1.25" />
<line x1="126.95" y1="241.5" x2="131.75" y2="241.5" stroke="#111" stroke-width="1.3" />
<line x1="126.95" y1="275.8" x2="131.75" y2="275.8" stroke="#111" stroke-width="1.3" />
<line x1="152.65" y1="235.6" x2="152.65" y2="279.9" stroke="#505050" stroke-width="1.25" />
<line x1="150.25" y1="235.6" x2="155.05" y2="235.6" stroke="#111" stroke-width="1.3" />
<line x1="175.95" y1="248.3" x2="175.95" y2="277.3" stroke="#505050" stroke-width="1.25" />
<line x1="173.55" y1="248.3" x2="178.35" y2="248.3" stroke="#111" stroke-width="1.3" />
<line x1="173.55" y1="277.3" x2="178.35" y2="277.3" stroke="#111" stroke-width="1.3" />
<line x1="173.55" y1="269.6" x2="178.35" y2="269.6" stroke="#111" stroke-width="1.3" />
<line x1="173.55" y1="260.1" x2="178.35" y2="260.1" stroke="#111" stroke-width="1.3" />
<line x1="106.05" y1="328" x2="106.05" y2="335.5" stroke="#505050" stroke-width="1.25" />
<line x1="103.65" y1="328" x2="108.45" y2="328" stroke="#111" stroke-width="1.3" />
<line x1="103.65" y1="335.5" x2="108.45" y2="335.5" stroke="#111" stroke-width="1.3" />
<polyline points="59.45,240 82.75,268.56 106.05,332.82 129.35,340.47 152.65,341.18 175.95,341.18" fill="none" stroke="#000" stroke-width="1.7" stroke-linejoin="round" stroke-dasharray="3 2.6"/>
<polyline points="59.45,240 82.75,231.84 106.05,259.38 129.35,253.26 152.65,279.78 175.95,263.46" fill="none" stroke="#9a9a9a" stroke-width="1.8" stroke-linejoin="round" />
<rect x="57.65" y="238.2" width="3.6" height="3.6" fill="#8a8a8a"/>
<rect x="80.95" y="230.04" width="3.6" height="3.6" fill="#8a8a8a"/>
<rect x="104.25" y="257.58" width="3.6" height="3.6" fill="#8a8a8a"/>
<rect x="127.55" y="251.46" width="3.6" height="3.6" fill="#8a8a8a"/>
<rect x="150.85" y="277.98" width="3.6" height="3.6" fill="#8a8a8a"/>
<rect x="174.15" y="261.66" width="3.6" height="3.6" fill="#8a8a8a"/>
<polyline points="59.45,240 82.75,265.5 106.05,277.23 129.35,266.52 152.65,258.56 175.95,264.48" fill="none" stroke="#000" stroke-width="2.15" stroke-linejoin="round" />
<polygon points="59.45,235.6 63.75,243.6 55.15,243.6" fill="#000"/>
<polygon points="82.75,261.1 87.05,269.1 78.45,269.1" fill="#000"/>
<polygon points="106.05,272.83 110.35,280.83 101.75,280.83" fill="#000"/>
<polygon points="129.35,262.12 133.65,270.12 125.05,270.12" fill="#000"/>
<polygon points="152.65,254.16 156.95,262.16 148.35,262.16" fill="#000"/>
<polygon points="175.95,260.08 180.25,268.08 171.65,268.08" fill="#000"/>
<line x1="183.7" y1="266.4" x2="202" y2="266.4" stroke="#000" stroke-width="1.8" stroke-dasharray="3 2.6"/>
<line x1="183.7" y1="291.6" x2="202" y2="291.6" stroke="#9a9a9a" stroke-width="1.8" />
<rect x="194.7" y="289.8" width="3.6" height="3.6" fill="#8a8a8a"/>
<line x1="183.7" y1="318.2" x2="202" y2="318.2" stroke="#000" stroke-width="2.4" />
<polygon points="196.5,315.34 199.3,320.54 193.7,320.54" fill="#000"/>
<text x="208.4" y="264.7" font-family='"Liberation Serif", serif' font-size="8.9" font-weight="bold" text-anchor="start" fill="#000" textLength="52.8" lengthAdjust="spacingAndGlyphs" >FLT3-D835Y-</text>
<text x="208.4" y="275.5" font-family='"Liberation Serif", serif' font-size="8.9" font-weight="bold" text-anchor="start" fill="#000" textLength="47.1" lengthAdjust="spacingAndGlyphs" >Ba/F3 (-IL3)</text>
<text x="208.4" y="290.8" font-family='"Liberation Serif", serif' font-size="8.9" font-weight="bold" text-anchor="start" fill="#000" textLength="52.8" lengthAdjust="spacingAndGlyphs" >FLT3-D835Y-</text>
<text x="208.4" y="302" font-family='"Liberation Serif", serif' font-size="8.9" font-weight="bold" text-anchor="start" fill="#000" textLength="49.2" lengthAdjust="spacingAndGlyphs" >Ba/F3 (+IL3)</text>
<text x="208.4" y="319.7" font-family='"Liberation Serif", serif' font-size="8.9" font-weight="bold" text-anchor="start" fill="#000" textLength="56.5" lengthAdjust="spacingAndGlyphs" >Parental Ba/F3</text>
<line x1="332.4" y1="244.1" x2="332.4" y2="354.9" stroke="#000" stroke-width="1.5" />
<line x1="329.6" y1="244.7" x2="332.4" y2="244.7" stroke="#000" stroke-width="1.5" />
<text x="326.8" y="247" font-family='"Liberation Sans", sans-serif' font-size="8.7" font-weight="normal" text-anchor="end" fill="#000" textLength="11.1" lengthAdjust="spacingAndGlyphs" stroke="#000" stroke-width="0.15">100</text>
<line x1="329.6" y1="266.62" x2="332.4" y2="266.62" stroke="#000" stroke-width="1.5" />
<text x="326.8" y="268.92" font-family='"Liberation Sans", sans-serif' font-size="8.7" font-weight="normal" text-anchor="end" fill="#000" textLength="7.4" lengthAdjust="spacingAndGlyphs" stroke="#000" stroke-width="0.15">80</text>
<line x1="329.6" y1="288.54" x2="332.4" y2="288.54" stroke="#000" stroke-width="1.5" />
<text x="326.8" y="290.84" font-family='"Liberation Sans", sans-serif' font-size="8.7" font-weight="normal" text-anchor="end" fill="#000" textLength="7.4" lengthAdjust="spacingAndGlyphs" stroke="#000" stroke-width="0.15">60</text>
<line x1="329.6" y1="310.46" x2="332.4" y2="310.46" stroke="#000" stroke-width="1.5" />
<text x="326.8" y="312.76" font-family='"Liberation Sans", sans-serif' font-size="8.7" font-weight="normal" text-anchor="end" fill="#000" textLength="7.4" lengthAdjust="spacingAndGlyphs" stroke="#000" stroke-width="0.15">40</text>
<line x1="329.6" y1="332.38" x2="332.4" y2="332.38" stroke="#000" stroke-width="1.5" />
<text x="326.8" y="334.68" font-family='"Liberation Sans", sans-serif' font-size="8.7" font-weight="normal" text-anchor="end" fill="#000" textLength="7.4" lengthAdjust="spacingAndGlyphs" stroke="#000" stroke-width="0.15">20</text>
<line x1="329.6" y1="354.3" x2="332.4" y2="354.3" stroke="#000" stroke-width="1.5" />
<text x="326.8" y="356.6" font-family='"Liberation Sans", sans-serif' font-size="8.7" font-weight="normal" text-anchor="end" fill="#000" textLength="3.7" lengthAdjust="spacingAndGlyphs" stroke="#000" stroke-width="0.15">0</text>
<rect x="339.4" y="266.6" width="11.1" height="87.7" fill="#b0b0b0" stroke="#000" stroke-width="1.4"/>
<rect x="366.3" y="258.6" width="11.3" height="95.7" fill="#b0b0b0" stroke="#000" stroke-width="1.4"/>
<rect x="393.3" y="257.5" width="11.3" height="96.8" fill="#b0b0b0" stroke="#000" stroke-width="1.4"/>
<rect x="420.1" y="266.6" width="11.4" height="87.7" fill="#b0b0b0" stroke="#000" stroke-width="1.4"/>
<line x1="332.4" y1="354.3" x2="439.4" y2="354.3" stroke="#000" stroke-width="1.5" />
<line x1="332.4" y1="354.3" x2="332.4" y2="357.7" stroke="#000" stroke-width="1.5" />
<line x1="359.15" y1="354.3" x2="359.15" y2="357.5" stroke="#000" stroke-width="1.5" />
<line x1="385.9" y1="354.3" x2="385.9" y2="357.5" stroke="#000" stroke-width="1.5" />
<line x1="412.65" y1="354.3" x2="412.65" y2="357.5" stroke="#000" stroke-width="1.5" />
<line x1="439.4" y1="354.3" x2="439.4" y2="357.5" stroke="#000" stroke-width="1.5" />
<text x="344.2" y="366.9" font-family='"Liberation Serif", serif' font-size="8.7" font-weight="bold" text-anchor="start" fill="#000" textLength="4" lengthAdjust="spacingAndGlyphs" >0</text>
<text x="361.9" y="366.9" font-family='"Liberation Serif", serif' font-size="8.7" font-weight="bold" text-anchor="start" fill="#000" textLength="19" lengthAdjust="spacingAndGlyphs" >0.001</text>
<text x="388.5" y="366.9" font-family='"Liberation Serif", serif' font-size="8.7" font-weight="bold" text-anchor="start" fill="#000" textLength="15" lengthAdjust="spacingAndGlyphs" >0.01</text>
<text x="420.3" y="366.9" font-family='"Liberation Serif", serif' font-size="8.7" font-weight="bold" text-anchor="start" fill="#000" textLength="10.4" lengthAdjust="spacingAndGlyphs" >0.1</text>
<text x="339.1" y="378.5" font-family='"Liberation Serif", serif' font-size="10.3" font-weight="bold" text-anchor="start" fill="#000" textLength="99.6" lengthAdjust="spacingAndGlyphs" >[NVP-AST487, µM]</text>
<text transform="translate(306.6,341.2) rotate(-90)" font-family='"Liberation Serif", serif' font-size="11.8" font-weight="bold" textLength="80.4" lengthAdjust="spacingAndGlyphs">Colony Number</text>
</svg>
</body></html>
